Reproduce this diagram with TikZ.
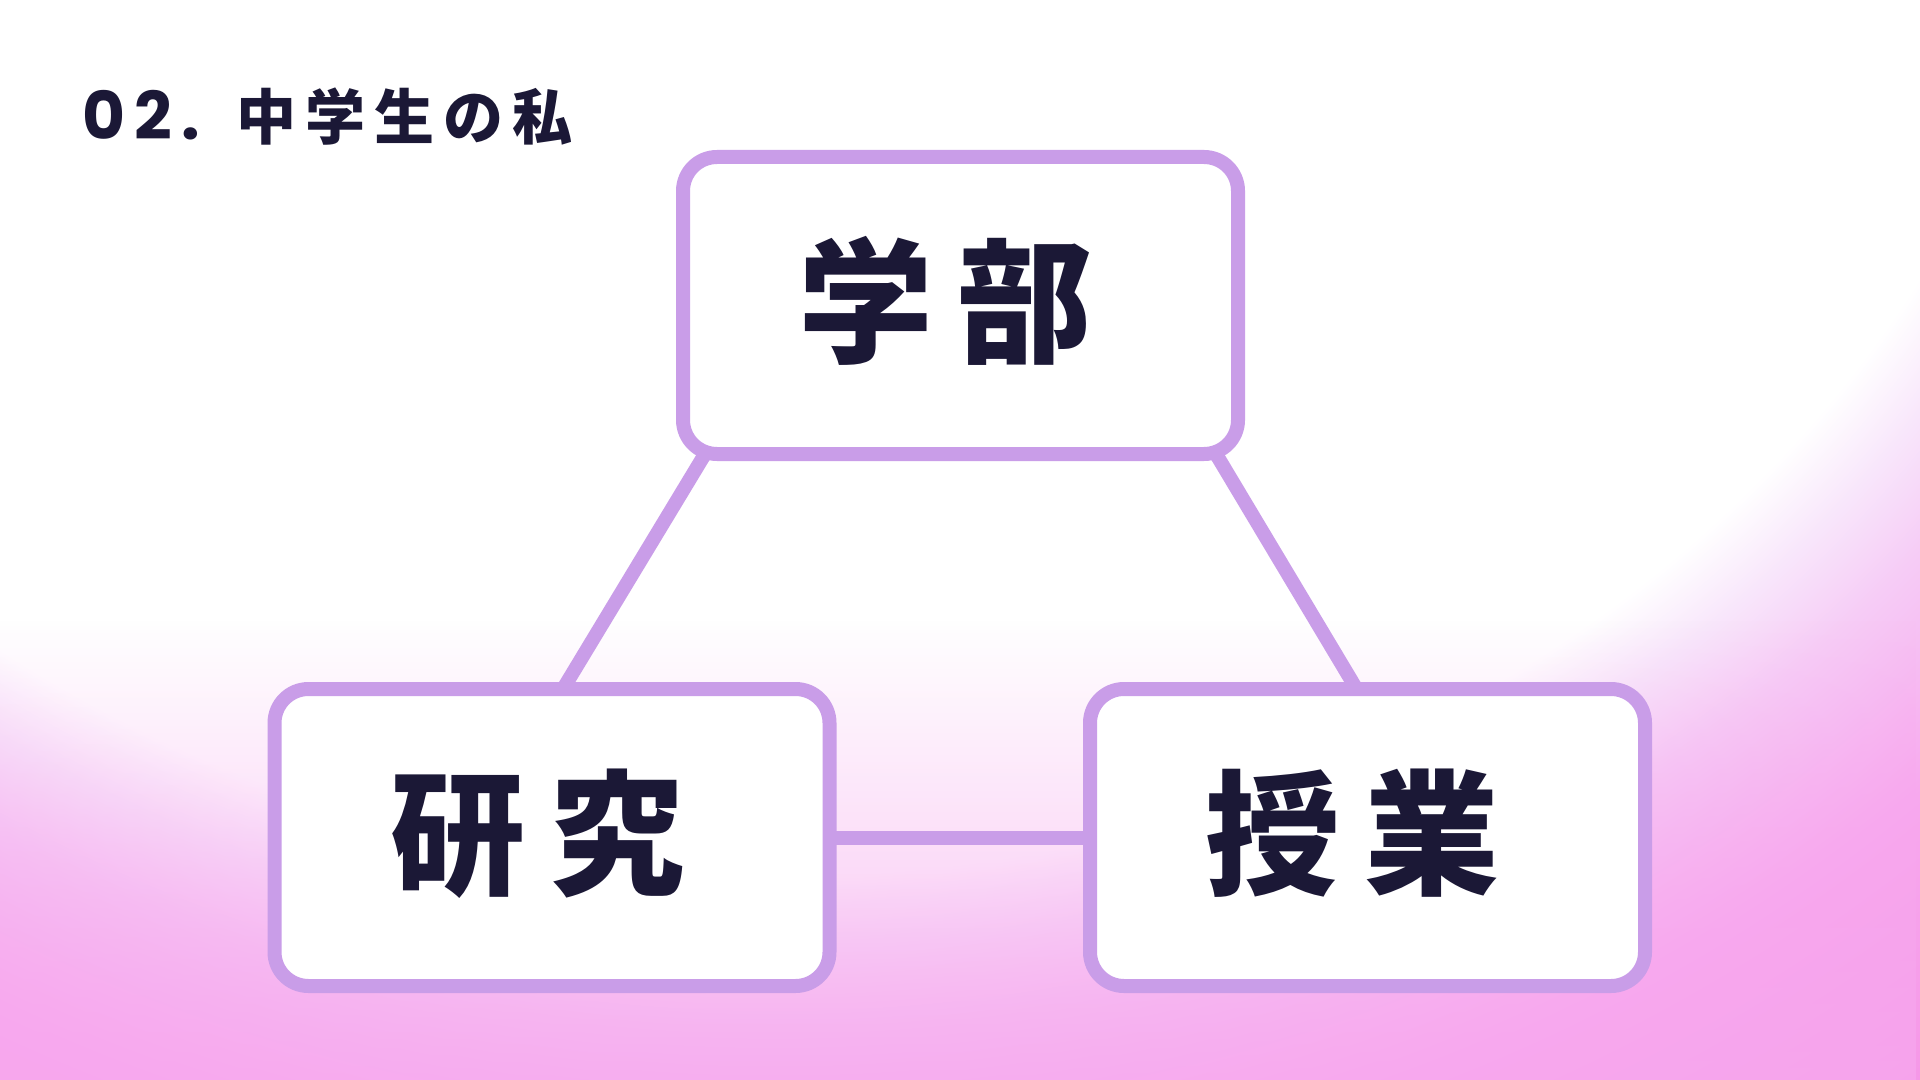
\documentclass[tikz,border=0pt]{standalone}
\usepackage{fontspec}
\usepackage{tikz}
\usetikzlibrary{positioning,calc,backgrounds,fadings}
\newfontfamily\jpfont{Noto Sans CJK JP}
\newfontfamily\numfont{Poppins}

\definecolor{ink}{HTML}{1B1836}
\definecolor{lilac}{HTML}{C99DE8}
\definecolor{bgdeep}{HTML}{F594E6}
\definecolor{bgpink}{HTML}{F7A8EE}
\definecolor{bgmid}{HTML}{F6CCF6}
\definecolor{bglav}{HTML}{F8E6FB}
\pgfdeclareradialshading{glow}{\pgfpoint{0bp}{0bp}}{color(0bp)=(white); color(11.3bp)=(white); color(12bp)=(bglav); color(12.8bp)=(bgmid); color(14.4bp)=(bgpink); color(17bp)=(bgdeep); color(50bp)=(bgdeep)}
\pgfdeclarelayer{paper}
\pgfsetlayers{paper,background,main}

\begin{document}
\begin{tikzpicture}[
    x=0.5pt, y=-0.5pt,
    box/.style={draw=lilac, line width=7pt, fill=white, rounded corners=17pt,
        minimum width=277.5pt, minimum height=148.5pt, inner sep=0pt, outer sep=0pt,
        text height=50.5pt, text depth=4pt, execute at end node={\hspace*{14.7pt}},
        text=ink, font=\jpfont\bfseries\addfontfeature{LetterSpace=18}\fontsize{67.5}{67.5}\selectfont},
    link/.style={lilac, line width=7pt}
]
\useasboundingbox (0,0) rectangle (1920,1080);

\node[anchor=base west, inner sep=0pt, text=ink] (title) at (82,140)
    {\numfont\bfseries\addfontfeature{LetterSpace=14}\fontsize{33}{33}\selectfont 02.\hspace{18pt}{\jpfont\addfontfeature{LetterSpace=15}\fontsize{30}{30}\selectfont 中学生の私}};

\node[box] (gakubu) at (960.5,305.5) {学部};
\node[box] (kenkyu) at (552,837.5) {研究};
\node[box] (jugyo) at (1367.5,837.5) {授業};

% links behind the boxes
\begin{scope}[on background layer]
\draw[link] ($(gakubu.south west)+(22,0)$) -- ($(kenkyu.north)+(11,0)$);
\draw[link] ($(gakubu.south east)+(-22,0)$) -- ($(jugyo.north)+(-11,0)$);
\draw[link] (kenkyu.east) -- (jugyo.west);
\end{scope}

% soft pink backdrop
\begin{pgfonlayer}{paper}
\shade[shading=glow] (-2131,-2900) rectangle (3681,2300);
\fill[bgpink, opacity=0.75, path fading=north] (0,620) rectangle (1920,1080);
\end{pgfonlayer}
\end{tikzpicture}
\end{document}
